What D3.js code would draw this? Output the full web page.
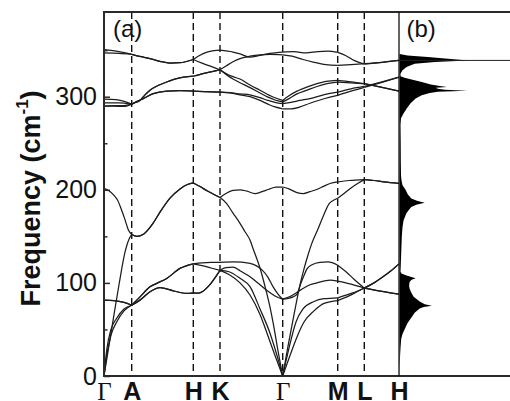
<!DOCTYPE html>
<html>
<head>
<meta charset="utf-8">
<script src="https://cdn.jsdelivr.net/npm/d3@7"></script>
<style>
  body { margin: 0; background: #fff; }
  svg { display: block; }
</style>
</head>
<body>
<svg id="chart" width="510" height="401"></svg>
<script>
// High-symmetry points along the path (path-length units) and their labels
const kPoints = [0, 0.277, 0.893, 1.16, 1.787, 2.337, 2.603, 2.95];
const kLabels = ["Γ", "A", "H", "K", "Γ", "M", "L", "H"];

const yMajorTicks = [0, 100, 200, 300];
const yMinorTicks = [50, 150, 250, 350];

// Phonon branches: [k, frequency in cm^-1]
const bandTA1 = [[0,0],[0.03,24],[0.07,44],[0.127,58],[0.2,70],[0.277,76],
  [0.36,81.5],[0.46,90.5],[0.56,95],[0.693,91.5],[0.827,88.7],[0.893,89.4],
  [0.95,89],[0.99,91],[1.05,97],[1.1,104],[1.16,113.5],
  [1.25,109],[1.36,100],[1.46,87],[1.56,66],[1.63,46],[1.71,22],[1.787,0],
  [1.85,30],[1.92,58],[1.99,72],[2.1,80],[2.2,83],[2.337,84],
  [2.45,88],[2.53,91],[2.603,94.5],
  [2.78,91],[2.95,88]];

const bandTA2 = [[0,0],[0.03,30],[0.07,50],[0.127,62],[0.2,72],[0.277,76],
  [0.36,81.5],[0.46,90.5],[0.56,95],[0.693,91.5],[0.827,88.7],[0.893,89.4],
  [0.95,89],[0.99,91],[1.05,97],[1.1,104],[1.16,113.5],
  [1.25,112],[1.36,105],[1.46,96],[1.56,72],[1.66,46],[1.73,22],[1.787,0],
  [1.86,22],[1.93,42],[2.0,58],[2.1,70],[2.2,78],[2.337,81],
  [2.45,86],[2.53,90.5],[2.603,94.5],
  [2.78,91],[2.95,88]];

const bandE2a = [[0,81.5],[0.1,81],[0.2,79],[0.277,76],
  [0.36,85],[0.46,95.8],[0.527,99.5],[0.627,104.8],[0.76,115.6],[0.893,120.5],
  [0.98,118.5],[1.07,116],[1.16,113.5],
  [1.22,116.5],[1.29,117],[1.36,113],[1.46,106.5],[1.56,98],[1.64,91],[1.71,86],[1.787,82.5],
  [1.87,86],[1.96,92],[2.06,98],[2.13,100],[2.26,103],[2.337,102],
  [2.46,99],[2.603,94.5],
  [2.7,100],[2.79,106.5],[2.87,113],[2.95,120.5]];

const bandE2b = [[0,81.5],[0.1,81],[0.2,79],[0.277,76],
  [0.36,85],[0.46,95.8],[0.527,99.5],[0.627,104.8],[0.76,115.6],[0.893,120.5],
  [0.98,121.5],[1.07,122],[1.16,122],
  [1.3,122.5],[1.46,121],[1.53,118],[1.58,114],[1.64,106],[1.69,96],[1.74,88],[1.787,82.5],
  [1.84,83.5],[1.89,85],[1.93,88],[1.97,100],[2.0,108],[2.03,115],[2.08,119.5],[2.16,122],[2.24,122.5],[2.337,119],
  [2.42,112],[2.5,104],[2.603,94.5],
  [2.7,100],[2.79,106.5],[2.87,113],[2.95,120.5]];

const bandLA = [[0,0],[0.05,33],[0.10,66],[0.15,98],[0.21,133],[0.25,147],[0.277,152],
  [0.33,150],[0.39,152],[0.49,164],[0.56,176],[0.66,191],[0.76,201],[0.84,206],[0.893,207.4],
  [0.96,203.5],[1.03,199],[1.1,195],[1.16,191.7],
  [1.22,186],[1.29,175],[1.36,164],[1.41,155],[1.46,146],[1.49,137],[1.56,116],[1.62,92],[1.66,74],[1.70,52],[1.74,27],[1.787,0],
  [1.84,32],[1.90,66],[1.96,98],[2.00,115],[2.04,130],[2.08,143],[2.14,158],[2.19,171],[2.25,185],[2.30,189],[2.337,191],
  [2.40,196],[2.47,202],[2.54,207],[2.603,211],
  [2.7,210],[2.8,208.5],[2.95,207]];

const bandB1 = [[0,201.5],[0.05,199],[0.10,194],[0.135,189],[0.17,180],[0.21,168],[0.243,157],[0.277,152],
  [0.33,150],[0.39,152],[0.49,164],[0.56,176],[0.66,191],[0.76,201],[0.84,206],[0.893,207.4],
  [0.96,203.5],[1.03,199],[1.1,195],[1.16,191.7],
  [1.22,196],[1.29,199.5],[1.36,200],[1.43,198.5],[1.51,196],[1.58,198],[1.643,200.3],[1.72,203],[1.787,203],
  [1.85,201],[1.93,197],[1.993,196],[2.06,198],[2.127,200.3],[2.2,204],[2.26,206.8],[2.337,208.5],
  [2.45,210],[2.603,211],
  [2.7,210],[2.8,208.5],[2.95,207]];

const bandOpt1 = [[0,290],[0.1,290],[0.2,289.5],[0.277,292],
  [0.33,295],[0.393,298],[0.493,303.3],[0.627,306],[0.76,306.5],[0.893,306],
  [1.0,305.5],[1.16,305],
  [1.26,304],[1.36,302],[1.46,300],[1.56,296],[1.64,292],[1.71,289],[1.787,287],
  [1.87,287],[1.96,289],[2.06,293],[2.16,296.5],[2.26,299.5],[2.337,301.5],
  [2.47,306],[2.603,310],
  [2.78,315.5],[2.95,321]];

const bandOpt2 = [[0,290],[0.1,290.5],[0.2,290.5],[0.277,292],
  [0.33,295],[0.393,298],[0.493,303.3],[0.627,306],[0.76,306.5],[0.893,306],
  [1.0,305.5],[1.16,305],
  [1.26,304.5],[1.36,303],[1.46,302],[1.56,299],[1.64,296],[1.71,294],[1.787,292.5],
  [1.87,294],[1.96,296],[2.06,298],[2.16,301],[2.26,303.5],[2.337,305],
  [2.47,308.5],[2.603,311],
  [2.78,316],[2.95,321]];

const bandOpt3 = [[0,293.5],[0.15,293.5],[0.277,292],
  [0.32,294],[0.36,296],[0.41,302],[0.46,307],[0.54,312],[0.627,315.8],[0.727,319.4],[0.893,322],
  [1.0,325],[1.08,327],[1.16,329],
  [1.22,324],[1.29,319],[1.36,315],[1.46,309.8],[1.56,304],[1.64,299.5],[1.71,296.5],[1.787,294.5],
  [1.85,298],[1.93,303],[2.03,307],[2.13,311],[2.23,314],[2.337,315.8],
  [2.47,315],[2.603,314],
  [2.78,310],[2.95,306]];

const bandOpt4 = [[0,297.5],[0.12,297],[0.2,295],[0.277,292],
  [0.32,294],[0.36,296],[0.41,302],[0.46,307],[0.54,312],[0.627,315.8],[0.727,319.4],[0.893,322],
  [1.0,325],[1.08,327],[1.16,329],
  [1.22,333],[1.29,337.5],[1.36,341],[1.46,343.5],[1.56,345],[1.66,345.5],[1.787,345],
  [1.88,343.5],[1.99,340],[2.1,337],[2.22,334.5],[2.337,333.7],
  [2.47,334.5],[2.603,335.5],
  [2.78,337],[2.95,339]];

const bandOpt5 = [[0,347],[0.15,346.5],[0.277,345.5],
  [0.37,343],[0.46,341],[0.56,338],[0.66,336.2],[0.76,336.5],[0.893,340],
  [0.98,336],[1.07,332.5],[1.16,329],
  [1.22,325],[1.29,321.5],[1.36,319],[1.46,312.5],[1.56,307],[1.69,299.7],[1.787,296],
  [1.85,301],[1.93,306],[1.99,308.7],[2.1,313],[2.22,316.5],[2.337,317.6],
  [2.47,316],[2.603,314],
  [2.78,310],[2.95,306]];

const bandOpt6 = [[0,350.5],[0.15,348.5],[0.277,345.5],
  [0.37,343],[0.46,341],[0.56,338],[0.66,336.2],[0.76,336.5],[0.893,340],
  [0.95,344],[1.03,348],[1.1,349.5],[1.16,350],
  [1.29,348],[1.36,346],[1.46,342.5],[1.56,344.5],[1.66,346.5],[1.787,348],
  [1.9,348.5],[2.02,347],[2.14,348.5],[2.24,349],[2.337,347.6],
  [2.42,344],[2.5,339],[2.603,335],
  [2.78,337],[2.95,339]];

const bands = [bandTA1, bandTA2, bandE2a, bandE2b, bandLA, bandB1,
               bandOpt1, bandOpt2, bandOpt3, bandOpt4, bandOpt5, bandOpt6];

// Phonon density of states (arbitrary units) against frequency (cm^-1)
const dosFreq = [0, 10, 20, 30, 40, 45, 50, 57, 63, 68, 72.5, 74, 75.5, 77, 80, 85, 90, 94, 97, 101,
  103.5, 105, 106.5, 108, 110, 112, 120, 135, 150, 160, 167, 174.5, 178, 181.6, 184, 186, 188, 190.6,
  195, 200, 205, 210, 215, 230, 250, 270, 277, 282, 287, 293, 298, 301.5, 304, 305.3, 306.3, 307.5,
  308.5, 309.5, 310.5, 311.5, 313, 315.5, 318, 320.5, 322, 324.8, 328.3, 331.9, 335.5, 337.2, 339,
  340.9, 342.6, 344.4, 346, 391];
const dosValue = [0, 0.002, 0.005, 0.01, 0.017, 0.03, 0.05, 0.08, 0.12, 0.15, 0.20, 0.24, 0.32, 0.25, 0.20, 0.14, 0.115, 0.10, 0.095, 0.10,
  0.12, 0.16, 0.11, 0.07, 0.02, 0.01, 0.013, 0.018, 0.023, 0.03, 0.04, 0.067, 0.09, 0.117, 0.167, 0.25, 0.18, 0.117,
  0.083, 0.06, 0.03, 0.02, 0.015, 0.013, 0.012, 0.01, 0.015, 0.04, 0.07, 0.11, 0.16, 0.22, 0.30, 0.38, 0.67, 0.45,
  0.38, 0.36, 0.47, 0.40, 0.31, 0.23, 0.14, 0.05, 0.01, 0.01, 0.03, 0.07, 0.15, 0.35, 0.68,
  0.48, 0.28, 0.08, 0, 0];
const dosTopLine = 339;

// ---- layout ----
const svg = d3.select("#chart");
const plot = { left: 104, right: 399, top: 12, bottom: 376 };
const panelEnd = 510;

const x = d3.scaleLinear().domain([kPoints[0], kPoints[kPoints.length - 1]]).range([plot.left, plot.right]);
const y = d3.scaleLinear().domain([0, 391]).range([plot.bottom, plot.top]);
const xDos = d3.scaleLinear().domain([0, 1.1]).range([plot.right + 0.5, panelEnd + 0.5]);

const sans = "'Liberation Sans', Arial, Helvetica, sans-serif";
const serif = "'Liberation Serif', 'Times New Roman', serif";

// dashed guides at interior high-symmetry points
svg.append("g")
  .selectAll("line")
  .data(kPoints.slice(1, -1))
  .join("line")
  .attr("x1", d => x(d)).attr("x2", d => x(d))
  .attr("y1", plot.top).attr("y2", plot.bottom)
  .attr("stroke", "#111")
  .attr("stroke-width", 1.4)
  .attr("stroke-dasharray", "7,4");

// dispersion curves, each drawn piecewise between symmetry points
function pieces(band) {
  const out = [];
  for (let i = 0; i < kPoints.length - 1; i++) {
    const a = kPoints[i], b = kPoints[i + 1];
    const pts = band.filter(p => p[0] >= a - 1e-6 && p[0] <= b + 1e-6);
    if (pts.length > 1) out.push(pts);
  }
  return out;
}
const line = d3.line()
  .x(d => x(d[0]))
  .y(d => y(d[1]))
  .curve(d3.curveMonotoneX);

svg.append("g")
  .attr("fill", "none")
  .attr("stroke", "#1c1c1c")
  .attr("stroke-width", 1.25)
  .attr("stroke-linejoin", "round")
  .selectAll("path")
  .data(bands.flatMap(pieces))
  .join("path")
  .attr("d", line);

// density of states panel
const dosData = dosFreq.map((f, i) => [f, dosValue[i]]);
svg.append("path")
  .datum(dosData)
  .attr("fill", "#000")
  .attr("d", d3.area()
    .y(d => y(d[0]))
    .x0(xDos(0))
    .x1(d => xDos(d[1])));

svg.append("line")
  .attr("x1", plot.right).attr("x2", panelEnd)
  .attr("y1", y(dosTopLine)).attr("y2", y(dosTopLine))
  .attr("stroke", "#222").attr("stroke-width", 1);

// frame
const frame = svg.append("g").attr("stroke", "#2a2a2a").attr("stroke-width", 2).attr("fill", "none");
frame.append("line").attr("x1", plot.left).attr("x2", plot.left).attr("y1", plot.top - 1).attr("y2", plot.bottom + 1);
frame.append("line").attr("x1", plot.left).attr("x2", panelEnd).attr("y1", plot.top).attr("y2", plot.top);
frame.append("line").attr("x1", plot.left).attr("x2", panelEnd).attr("y1", plot.bottom).attr("y2", plot.bottom);
svg.append("line")
  .attr("x1", plot.right).attr("x2", plot.right)
  .attr("y1", plot.top).attr("y2", plot.bottom)
  .attr("stroke", "#111").attr("stroke-width", 1.3);

// y axis: inward ticks with labels
const yAxis = svg.append("g")
  .attr("transform", `translate(${plot.left},0)`)
  .call(d3.axisLeft(y).tickValues(yMajorTicks).tickSizeInner(-6).tickSizeOuter(0).tickPadding(7));
yAxis.select(".domain").remove();
yAxis.selectAll("line").attr("stroke", "#2a2a2a").attr("stroke-width", 1.5);
yAxis.selectAll("text")
  .attr("font-family", sans).attr("font-size", 25).attr("fill", "#111");

const yMinor = svg.append("g")
  .attr("transform", `translate(${plot.left},0)`)
  .call(d3.axisLeft(y).tickValues(yMinorTicks).tickSizeInner(-3.5).tickSizeOuter(0).tickFormat(() => ""));
yMinor.select(".domain").remove();
yMinor.selectAll("line").attr("stroke", "#2a2a2a").attr("stroke-width", 1.5);

// x axis: symmetry point labels
const xAxis = svg.append("g")
  .attr("transform", `translate(0,${plot.bottom})`)
  .call(d3.axisBottom(x).tickValues(kPoints).tickSize(0).tickPadding(6.5)
    .tickFormat((d, i) => kLabels[i]));
xAxis.select(".domain").remove();
xAxis.selectAll("text")
  .attr("fill", "#111")
  .attr("font-size", 25)
  .attr("font-family", d => kLabels[kPoints.indexOf(d)] === "Γ" ? serif : sans)
  .attr("font-weight", d => kLabels[kPoints.indexOf(d)] === "Γ" ? "normal" : "bold");

// y axis title
const yTitle = svg.append("text")
  .attr("transform", `translate(40,198.5) rotate(-90)`)
  .attr("text-anchor", "middle")
  .attr("font-family", sans)
  .attr("font-weight", "bold")
  .attr("font-size", 27)
  .attr("fill", "#111");
yTitle.append("tspan").text("Frequency (cm");
yTitle.append("tspan").attr("font-size", 17).attr("dy", -12).text("-1");
yTitle.append("tspan").attr("dy", 12).text(")");

// panel labels
svg.append("text").attr("x", 113).attr("y", 36.5)
  .attr("font-family", sans).attr("font-size", 24).attr("fill", "#111").text("(a)");
svg.append("text").attr("x", 406.5).attr("y", 36.5)
  .attr("font-family", sans).attr("font-size", 24).attr("fill", "#111").text("(b)");
</script>
</body>
</html>
